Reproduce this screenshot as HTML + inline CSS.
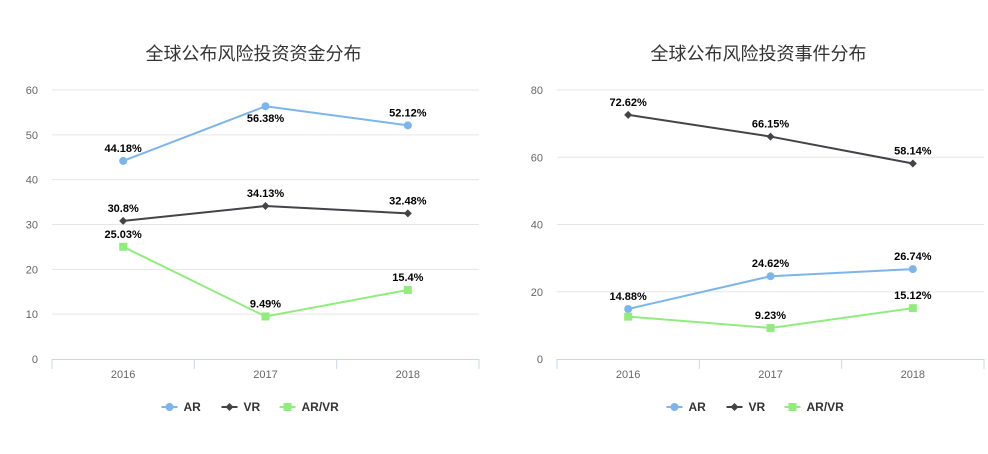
<!DOCTYPE html>
<html><head><meta charset="utf-8"><style>
body{margin:0;background:#fff;width:988px;height:449px;overflow:hidden;font-family:"Liberation Sans","Noto Sans CJK SC",sans-serif}
</style></head><body>
<svg id="c" width="988" height="449" xmlns="http://www.w3.org/2000/svg"></svg>
<script>
const categories=["2016","2017","2018"];
const fundAR=[44.18,56.38,52.12];
const fundVR=[30.8,34.13,32.48];
const fundARVR=[25.03,9.49,15.4];
const fundLabels=[["44.18%","56.38%","52.12%"],["30.8%","34.13%","32.48%"],["25.03%","9.49%","15.4%"]];
const fundTicks=[0,10,20,30,40,50,60];
const eventAR=[14.88,24.62,26.74];
const eventVR=[72.62,66.15,58.14];
const eventARVR=[12.6,9.23,15.12];
const eventLabels=[["14.88%","24.62%","26.74%"],["72.62%","66.15%","58.14%"],["","9.23%","15.12%"]];
const eventTicks=[0,20,40,60,80];
const seriesNames=["AR","VR","AR/VR"];
const colors=["#7cb5ec","#434348","#90ed7d"];
const NS="http://www.w3.org/2000/svg";
const svg=document.getElementById('c');
function mk(t,a,p){const e=document.createElementNS(NS,t);for(const k in a)e.setAttribute(k,a[k]);(p||svg).appendChild(e);return e;}
function chart(x0,x1,title,ticks,series,labels,name){
  const g=mk('g',{});
  
  
  const top=90,bot=359,max=ticks[ticks.length-1];
  const y=v=>bot-(v/max)*(bot-top);
  const bw=(x1-x0)/categories.length;
  const x=i=>x0+bw*(i+0.5);
  const t=mk('text',{x:(x0+x1)/2-12,y:60,'text-anchor':'middle','font-size':18,fill:'#333'},g);t.textContent=title;
  
  ticks.forEach(v=>{
    if(v>0){const l=mk('line',{x1:x0,x2:x1,y1:y(v),y2:y(v),stroke:'#e6e6e6'},g);}
    const tt=mk('text',{x:x0-14,y:y(v)+4,'text-anchor':'end','font-size':11,fill:'#666'},g);tt.textContent=v;
    
  });
  const ax=mk('line',{x1:x0,x2:x1,y1:bot+0.5,y2:bot+0.5,stroke:'#ccd6eb'},g);
  for(let i=0;i<=categories.length;i++){mk('line',{x1:x0+bw*i,x2:x0+bw*i,y1:bot,y2:bot+10,stroke:'#ccd6eb'},g);}
  categories.forEach((c,i)=>{const tt=mk('text',{x:x(i),y:bot+19,'text-anchor':'middle','font-size':11,fill:'#666'},g);tt.textContent=c;
    });
  series.forEach((s,k)=>{
    const p=mk('polyline',{points:s.map((v,i)=>x(i)+','+y(v)).join(' '),fill:'none',stroke:colors[k],'stroke-width':2},g);
    
    s.forEach((v,i)=>{
      let m;
      if(k==0)m=mk('circle',{cx:x(i),cy:y(v),r:4,fill:colors[k]},g);
      else if(k==1)m=mk('path',{d:`M${x(i)},${y(v)-4}l4,4l-4,4l-4,-4z`,fill:colors[k]},g);
      else m=mk('rect',{x:x(i)-4,y:y(v)-4,width:8,height:8,fill:colors[k]},g);
      
      const lb=labels[k][i];
      if(lb){
        let dy=-9;
        if(k==0&&i==1&&name=='fund-chart')dy=16;
        const tt=mk('text',{x:x(i),y:y(v)+dy,'text-anchor':'middle','font-size':11,'font-weight':'bold',fill:'#000'},g);tt.textContent=lb;
        
      }
    });
  });
  const lx=(x0+x1)/2-104;
  const offs=[0,60,118];
  seriesNames.forEach((n,k)=>{
    const lg=mk('g',{},g);
    const cx=lx+offs[k];
    mk('line',{x1:cx,x2:cx+16,y1:407,y2:407,stroke:colors[k],'stroke-width':2},lg);
    if(k==0)mk('circle',{cx:cx+8,cy:407,r:4,fill:colors[k]},lg);
    else if(k==1)mk('path',{d:`M${cx+8},403l4,4l-4,4l-4,-4z`,fill:colors[k]},lg);
    else mk('rect',{x:cx+4,y:403,width:8,height:8,fill:colors[k]},lg);
    const tt=mk('text',{x:cx+22,y:411,'font-size':12,'font-weight':'bold',fill:'#333'},lg);tt.textContent=n;
  });
}
chart(52,479,"全球公布风险投资资金分布",fundTicks,[fundAR,fundVR,fundARVR],fundLabels,'fund-chart');
chart(557,984,"全球公布风险投资事件分布",eventTicks,[eventAR,eventVR,eventARVR],eventLabels,'event-chart');
</script>
</body></html>
